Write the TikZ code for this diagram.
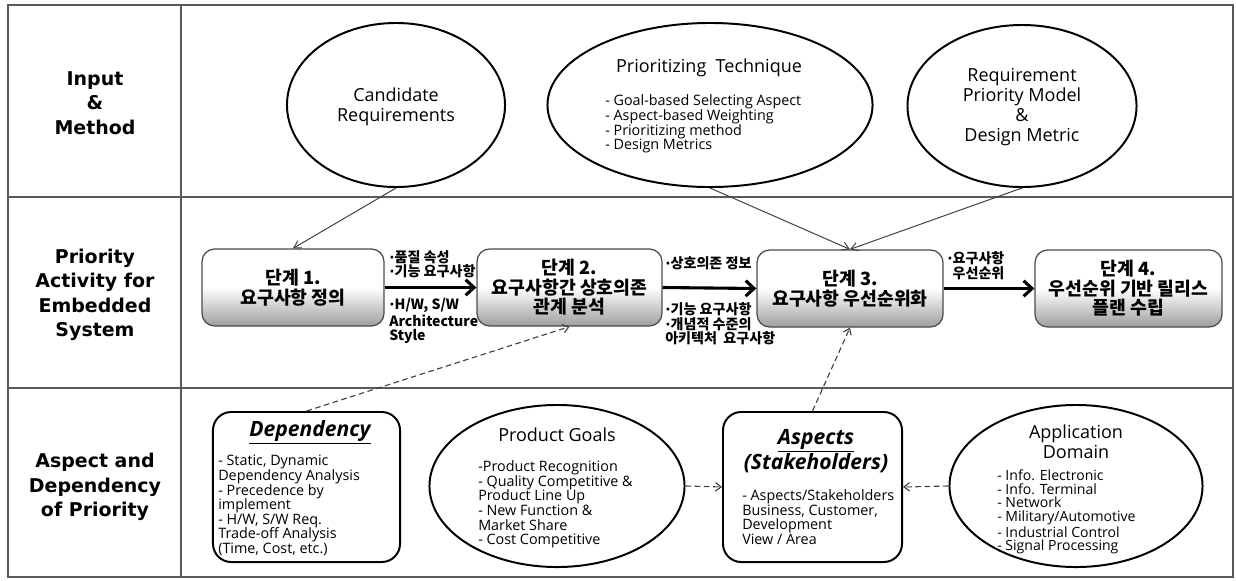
\documentclass[tikz,border=0pt]{standalone}
\usepackage{fontspec}
\setmainfont{Open Sans}
\newfontfamily\kr{Noto Sans CJK KR}
\newfontfamily\lab{DejaVu Sans}
\newcommand\bul{{\lab\bfseries ·}}
\usetikzlibrary{positioning,arrows.meta,shapes.geometric,calc}

\begin{document}
\begin{tikzpicture}[x=0.025cm, y=-0.025cm,
    frameline/.style={draw=black!65, line width=0.9pt},
    rowlab/.style={align=center, font=\lab\bfseries\fontsize{13.5}{17.4}\selectfont},
    oval/.style={ellipse, draw, line width=1.4pt, inner sep=0pt},
    roundbox/.style={rectangle, draw, rounded corners=13pt, line width=1.4pt, inner sep=0pt},
    ovaltitle/.style={align=center, inner sep=0pt, font=\fontsize{12.8}{14.2}\selectfont},
    boxtitle/.style={align=center, inner sep=0pt, font=\bfseries\itshape\fontsize{15}{15.8}\selectfont},
    itemlist/.style={align=left, anchor=west, inner sep=0pt, font=\fontsize{10.2}{10.4}\selectfont},
    stepbox/.style={rectangle, rounded corners=9pt, draw=black!70, line width=0.9pt,
        top color=white, bottom color=black!38, middle color=white,
        align=center, inner sep=2pt, font=\kr\bfseries\fontsize{13}{13.8}\selectfont},
    flowlab/.style={align=left, anchor=west, inner sep=0pt, font=\kr\bfseries\fontsize{10}{10.3}\selectfont},
    flow/.style={line width=2.2pt, -{Straight Barb[length=6pt, width=11pt]}},
    feed/.style={draw=black!75, line width=0.7pt, -{Straight Barb[length=5pt, width=6pt]}},
    dashlink/.style={draw=black!75, line width=0.8pt, dash pattern=on 4pt off 2.5pt, -{Straight Barb[length=4pt, width=6pt]}}]

    \fill[white] (0,0) rectangle (1236,580);
    \useasboundingbox (0,0) rectangle (1236,580);

    % table frame
    \draw[frameline] (8,5) rectangle (1233,577);
    \draw[frameline] (181,5) -- (181,577);
    \draw[frameline] (8,197) -- (1233,197);
    \draw[frameline] (8,388) -- (1233,388);

    % row headings
    \node[rowlab] (rowin) at (95,103) {Input\\\&\\Method};
    \node[rowlab] (rowact) at (95,295) {Priority\\Activity for\\Embedded\\System};
    \node[rowlab] (rowasp) at (95,487) {Aspect and\\Dependency\\of Priority};

    % input & method
    \node[oval, minimum width=5.45cm, minimum height=4.1cm] (cand) at (396,105) {};
    \node[oval, minimum width=8.125cm, minimum height=4.1cm] (tech) at (710,105) {};
    \node[oval, minimum width=5.725cm, minimum height=4.05cm] (model) at (1022,106) {};
    \node[ovaltitle] (candtxt) at (396,107) {Candidate\\Requirements};
    \node[ovaltitle] (techtitle) at (709,68) {Prioritizing\ \ Technique};
    \node[itemlist] (techlist) at (605,124) {- Goal-based Selecting Aspect\\- Aspect-based Weighting\\- Prioritizing method\\- Design Metrics};
    \node[ovaltitle] (modeltxt) at (1022,107.5) {Requirement\\Priority Model\\\&\\Design Metric};

    % priority activity
    \node[stepbox, minimum width=4.55cm, minimum height=1.925cm] (step1) at (293,287.5) {단계 1.\\요구사항 정의};
    \node[stepbox, minimum width=4.625cm, minimum height=1.925cm] (step2) at (569.5,287.5) {단계 2.\\요구사항간 상호의존\\관계 분석};
    \node[stepbox, minimum width=4.65cm, minimum height=1.925cm] (step3) at (850,288.5) {단계 3.\\요구사항 우선순위화};
    \node[stepbox, minimum width=4.675cm, minimum height=1.925cm] (step4) at (1128.5,288.5) {단계 4.\\우선순위 기반 릴리스\\플랜 수립};

    \draw[flow] (step1.east) -- (step2.west);
    \draw[flow] (step2.east) -- (step3.west);
    \draw[flow] (step3.east) -- (step4.west);

    \node[flowlab] (lab12a) at (389,264) {\bul 품질 속성\\\bul 기능 요구사항};
    \node[flowlab] (lab12b) at (389,321) {\bul H/W, S/W\\Architecture\\Style};
    \node[flowlab] (lab23a) at (665,263) {\bul 상호의존 정보};
    \node[flowlab] (lab23b) at (665,324) {\bul 기능 요구사항\\\bul 개념적 수준의\\아키텍처\ \ 요구사항};
    \node[flowlab] (lab34a) at (947,265.5) {\bul 요구사항\\\hphantom{\bul}우선순위};

    % aspect and dependency
    \node[roundbox, minimum width=4.675cm, minimum height=3.75cm] (dep) at (306.5,487) {};
    \node[oval, minimum width=6.375cm, minimum height=4.05cm] (goals) at (557,486) {};
    \node[roundbox, minimum width=4.475cm, minimum height=3.75cm] (asp) at (812.5,487) {};
    \node[oval, minimum width=6.325cm, minimum height=4.05cm] (appl) at (1076,486) {};

    \node[boxtitle] (deptitle) at (310,432) {\underline{Dependency}};
    \node[itemlist] (deplist) at (218,505.5) {- Static, Dynamic\\Dependency Analysis\\- Precedence by\\implement\\- H/W, S/W Req.\\Trade-off Analysis\\(Time, Cost, etc.)};
    \node[ovaltitle] (goalstitle) at (557,435) {Product Goals};
    \node[itemlist] (goalslist) at (478,504.5) {-Product Recognition\\- Quality Competitive \&\\Product Line Up\\- New Function \&\\Market Share\\- Cost Competitive};
    \node[boxtitle] (asptitle) at (816,451) {\underline{Aspects}\\(Stakeholders)};
    \node[itemlist] (asplist) at (742,517) {- Aspects/Stakeholders\\Business, Customer,\\Development\\View / Area};
    \node[ovaltitle] (appltitle) at (1076,442) {Application\\Domain};
    \node[itemlist, font=\fontsize{10}{9.8}\selectfont] (appllist) at (997,512) {- Info. Electronic\\- Info. Terminal\\- Network\\- Military/Automotive\\- Industrial Control\\- Signal Processing};

    % links into the activities
    \draw[feed] (cand.south) -- (step1.north);
    \draw[feed] (tech.south) -- (step3.north);
    \draw[feed] (model.south) -- (step3.north);
    \draw[dashlink] (dep.north) -- (step2.south);
    \draw[dashlink] (asp.north) -- (step3.south);
    \draw[dashlink] (goals.east) -- (asp.west);
    \draw[dashlink] (appl.west) -- (asp.east);
\end{tikzpicture}
\end{document}
